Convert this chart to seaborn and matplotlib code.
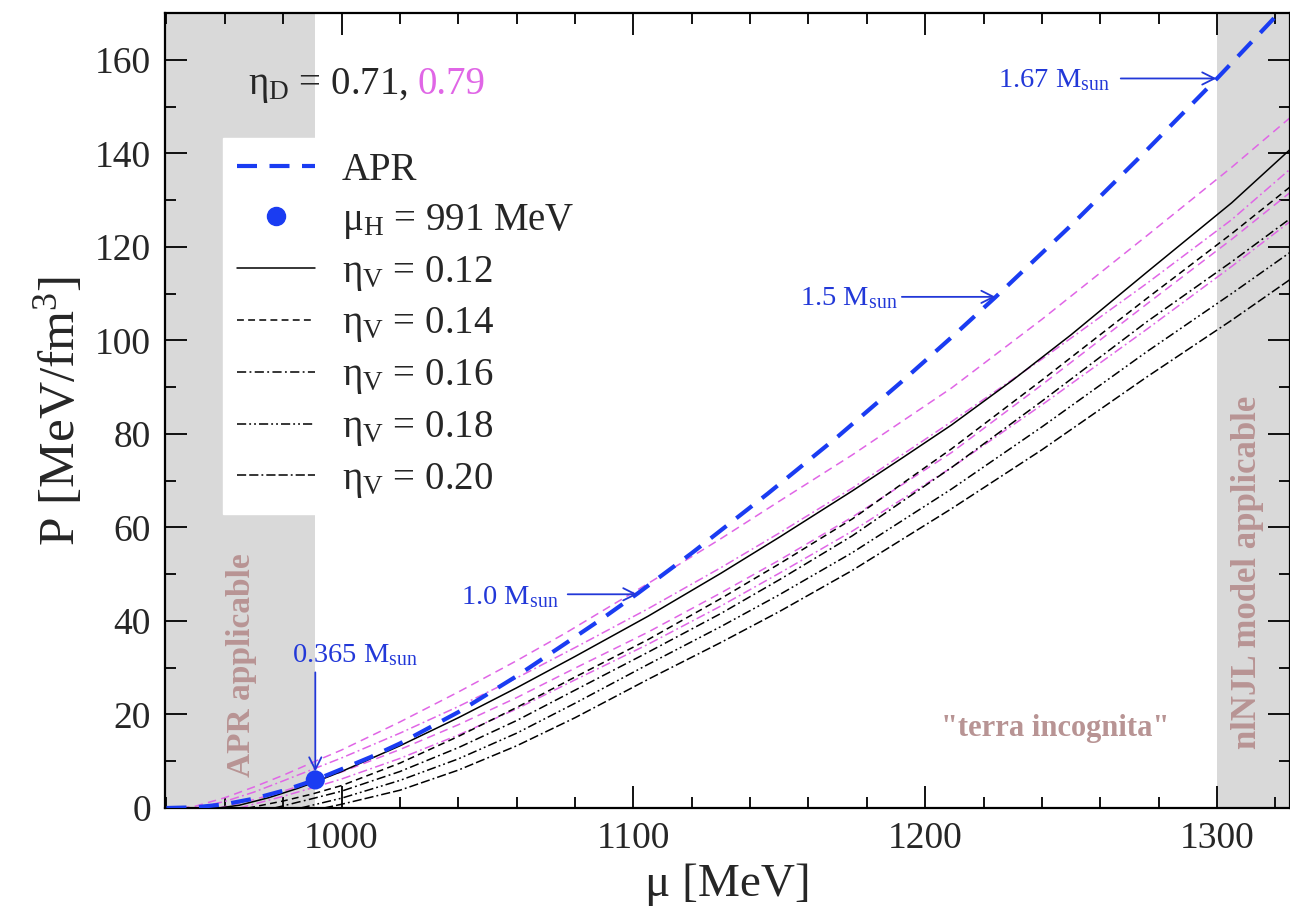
import matplotlib
matplotlib.use("Agg")
import matplotlib.pyplot as plt
from matplotlib.lines import Line2D
import seaborn as sns

# ---------------- data ----------------
# APR nuclear-matter equation of state, P(mu)
apr_mu = [940, 950, 960, 970, 980, 991, 1000, 1010, 1020, 1040, 1060, 1077, 1090,
          1101.5, 1120, 1146, 1170, 1192, 1210, 1224, 1250, 1275, 1300, 1325]
apr_p = [0.0, 0.15, 0.8, 2.0, 3.7, 6.0, 8.3, 10.9, 13.8, 20.5, 28.2, 35.3, 40.8,
         45.9, 54.5, 67.2, 79.4, 91.2, 101.2, 109.2, 124.6, 140.1, 156.0, 172.5]

# hadron-quark onset on the APR curve
mu_h = [991.0]
p_h = [6.0]

# nlNJL quark matter, eta_D = 0.71 (one curve per eta_V)
eta_v = ["0.12", "0.14", "0.16", "0.18", "0.20"]

q12_mu = [958, 965, 975, 985, 991, 1000, 1020, 1040, 1060, 1080, 1105, 1130, 1150,
          1175, 1192, 1209, 1230, 1250, 1276, 1305, 1325]
q12_p = [0.0, 0.6, 2.2, 4.2, 5.6, 7.8, 13.3, 19.3, 25.7, 32.4, 41.0, 50.2, 57.9,
         67.8, 74.8, 81.9, 91.5, 101.2, 114.6, 129.4, 140.8]

q14_mu = [968, 980, 990, 1000, 1020, 1040, 1060, 1080, 1105, 1130, 1150, 1175,
          1209, 1240, 1276, 1305, 1325]
q14_p = [0.0, 1.5, 3.0, 4.8, 9.6, 15.3, 21.5, 28.0, 36.0, 44.8, 52.2, 61.8,
         76.8, 91.5, 109.0, 122.8, 132.8]

q16_mu = [977, 990, 1000, 1020, 1040, 1060, 1080, 1105, 1130, 1150, 1175, 1209,
          1240, 1276, 1305, 1325]
q16_p = [0.0, 2.0, 3.6, 7.8, 12.9, 18.7, 25.2, 33.3, 41.6, 48.8, 58.2, 72.8,
         87.0, 104.0, 116.8, 126.0]

q18_mu = [986, 1000, 1020, 1040, 1060, 1080, 1105, 1130, 1150, 1175, 1209, 1240,
          1276, 1305, 1325]
q18_p = [0.0, 2.1, 5.9, 10.5, 16.0, 22.4, 30.7, 38.8, 45.6, 54.6, 68.2, 81.5,
         97.6, 110.0, 118.8]

q20_mu = [994, 1000, 1020, 1040, 1060, 1080, 1105, 1130, 1150, 1175, 1209, 1240,
          1276, 1305, 1325]
q20_p = [0.0, 0.8, 3.8, 8.1, 13.3, 19.3, 27.5, 35.4, 42.0, 50.8, 64.0, 76.6,
         92.2, 104.3, 113.0]

# nlNJL quark matter, eta_D = 0.79
m12_mu = [945, 950, 960, 970, 980, 991, 1000, 1020, 1040, 1060, 1077, 1105, 1130,
          1150, 1175, 1209, 1240, 1276, 1305, 1325]
m12_p = [0.0, 0.4, 2.2, 4.5, 7.0, 10.0, 12.4, 18.4, 24.8, 31.5, 37.5, 48.0, 57.6,
         65.6, 75.5, 89.8, 104.5, 122.4, 137.0, 147.6]

m14_mu = [950, 960, 970, 980, 991, 1000, 1020, 1040, 1060, 1080, 1105, 1130, 1150,
          1175, 1209, 1240, 1276, 1305, 1325]
m14_p = [0.0, 1.4, 3.4, 5.8, 8.5, 10.7, 16.0, 21.7, 27.8, 34.3, 42.6, 51.4, 58.8,
         68.4, 82.6, 96.0, 112.2, 125.8, 136.6]

m16_mu = [958, 970, 980, 991, 1000, 1020, 1040, 1060, 1080, 1105, 1130, 1150,
          1175, 1209, 1240, 1276, 1305, 1325]
m16_p = [0.0, 1.8, 3.6, 5.8, 7.7, 12.5, 17.8, 23.6, 29.9, 37.6, 46.0, 53.0,
         62.2, 76.0, 90.5, 107.8, 121.6, 131.6]

m18_mu = [965, 980, 991, 1000, 1020, 1040, 1060, 1080, 1105, 1130, 1150, 1175,
          1209, 1240, 1276, 1305, 1325]
m18_p = [0.0, 2.5, 4.5, 6.2, 10.6, 15.6, 21.2, 27.4, 35.0, 43.2, 50.2, 59.2,
         72.8, 86.2, 102.4, 115.8, 125.4]

# ---------------- style ----------------
sns.set_theme(style="ticks")
plt.rcParams["font.family"] = ["Liberation Serif", "DejaVu Serif"]
plt.rcParams["mathtext.fontset"] = "custom"
plt.rcParams["mathtext.rm"] = "Liberation Serif"
plt.rcParams["mathtext.it"] = "Liberation Serif:italic"
plt.rcParams["mathtext.bf"] = "Liberation Serif:bold"

BLUE = "#1a3cf2"
ANN_BLUE = "#2238d8"
MAGENTA = "#e066e6"
GRAY = "#d9d9d9"
BROWN = "#b89494"

fig = plt.figure(figsize=(12.9, 9.06), dpi=100)
ax = fig.add_axes([165 / 1290, 98 / 906, 1125 / 1290, 795 / 906])

XMIN, XMAX = 939.5, 1325.0
ax.set_xlim(XMIN, XMAX)
ax.set_ylim(0, 170)

# validity regions
ax.axvspan(XMIN, 991.0, color=GRAY, lw=0, zorder=0)
ax.axvspan(1300.0, XMAX, color=GRAY, lw=0, zorder=0)

lw_thin = 1.1
ls_q = [
    "-",
    (0, (4.5, 2.8)),
    (0, (6, 2.2, 1.2, 2.2)),
    (0, (6, 2.0, 1.2, 2.0, 1.2, 2.0)),
    (0, (6, 2.0, 6, 2.0, 1.2, 2.0)),
]

# eta_D = 0.79 family
m_curves = [(m12_mu, m12_p, (0, (5.5, 3.5))),
            (m14_mu, m14_p, (0, (6, 2.2, 1.2, 2.2))),
            (m16_mu, m16_p, (0, (5.5, 3.5))),
            (m18_mu, m18_p, (0, (6, 2.2, 1.2, 2.2)))]
for mu, p, ls in m_curves:
    sns.lineplot(x=mu, y=p, ax=ax, color=MAGENTA, linewidth=lw_thin,
                 linestyle=ls, sort=False, estimator=None, zorder=2)

# eta_D = 0.71 family
q_curves = [(q12_mu, q12_p), (q14_mu, q14_p), (q16_mu, q16_p),
            (q18_mu, q18_p), (q20_mu, q20_p)]
for (mu, p), ls in zip(q_curves, ls_q):
    sns.lineplot(x=mu, y=p, ax=ax, color="black", linewidth=lw_thin,
                 linestyle=ls, sort=False, estimator=None, zorder=3)

# APR
sns.lineplot(x=apr_mu, y=apr_p, ax=ax, color=BLUE, linewidth=3.0,
             linestyle=(0, (4.8, 3.0)), sort=False, estimator=None, zorder=4)
sns.scatterplot(x=mu_h, y=p_h, ax=ax, s=190, color=BLUE, edgecolor="none",
                zorder=5, legend=False)

# ---------------- axes ----------------
ax.set_xticks([1000, 1100, 1200, 1300])
ax.set_xticks(range(940, 1326, 20), minor=True)
ax.set_yticks(range(0, 161, 20))
ax.set_yticks(range(0, 171, 10), minor=True)
ax.tick_params(which="both", direction="in", top=True, right=True,
               labelsize=27, width=1.3, color="black")
ax.tick_params(which="major", length=16, pad=10)
ax.tick_params(which="minor", length=8)
for s in ax.spines.values():
    s.set_linewidth(1.6)
    s.set_color("black")
ax.set_xlabel("μ [MeV]", fontsize=34, labelpad=5)
ax.set_ylabel("P [MeV/fm$^\\mathrm{3}$]", fontsize=37, labelpad=7)

# ---------------- legend ----------------
handles = [Line2D([], [], color=BLUE, lw=3.0, linestyle=(0, (4.8, 3.0))),
           Line2D([], [], color=BLUE, lw=0, marker="o", markersize=13)]
labels = ["APR", "μ$_\\mathrm{H}$ = 991 MeV"]
for ls, v in zip(ls_q, eta_v):
    handles.append(Line2D([], [], color="black", lw=lw_thin, linestyle=ls))
    labels.append("η$_\\mathrm{V}$ = " + v)
leg = ax.legend(handles, labels, loc="upper left",
                bbox_to_anchor=((223 - 165) / 1125, (808 - 138) / 795),
                borderaxespad=0, frameon=True, fancybox=False, framealpha=1,
                facecolor="white", edgecolor="white", fontsize=28,
                handlelength=2.0, handletextpad=0.7, labelspacing=0.33,
                borderpad=0.36)
leg.set_zorder(6)

# ---------------- text ----------------
t1 = ax.text(968.0, 152.6, "η$_\\mathrm{D}$ = 0.71,", fontsize=28,
             va="baseline", ha="left", zorder=7)
fig.canvas.draw()
bb = t1.get_window_extent(fig.canvas.get_renderer())
x_end = ax.transData.inverted().transform((bb.x1 + 9, 0))[0]
ax.text(x_end, 152.6, "0.79", fontsize=28, color=MAGENTA, va="baseline",
        ha="left", zorder=7)

ann = dict(color=ANN_BLUE, fontsize=20.5, va="baseline", ha="left", zorder=7)
arr = dict(arrowstyle="->", color=ANN_BLUE, lw=1.3, mutation_scale=22,
           shrinkA=0, shrinkB=0)
ax.text(983.0, 31.3, "0.365 M$_\\mathrm{sun}$", **ann)
ax.annotate("", xy=(991, 7.8), xytext=(991, 29), arrowprops=arr, zorder=7)
ax.text(1041.0, 43.6, "1.0 M$_\\mathrm{sun}$", **ann)
ax.annotate("", xy=(1101.4, 45.7), xytext=(1077.5, 45.7), arrowprops=arr, zorder=7)
ax.text(1157.0, 107.6, "1.5 M$_\\mathrm{sun}$", **ann)
ax.annotate("", xy=(1224.1, 109.3), xytext=(1192.0, 109.3), arrowprops=arr, zorder=7)
ax.text(1225.0, 154.1, "1.67 M$_\\mathrm{sun}$", **ann)
ax.annotate("", xy=(1299.8, 156.0), xytext=(1267.0, 156.0), arrowprops=arr, zorder=7)

ax.text(0.068, 0.18, "APR applicable", transform=ax.transAxes, rotation=90,
        fontsize=24, fontweight="bold", color=BROWN, ha="center", va="center")
ax.text(0.962, 0.296, "nlNJL model applicable", transform=ax.transAxes,
        rotation=90, fontsize=25, fontweight="bold", color=BROWN,
        ha="center", va="center")
ax.text(0.791, 0.10, "\"terra incognita\"", transform=ax.transAxes,
        fontsize=22, fontweight="bold", color=BROWN, ha="center", va="center")

fig.savefig("out.png", dpi=100)
